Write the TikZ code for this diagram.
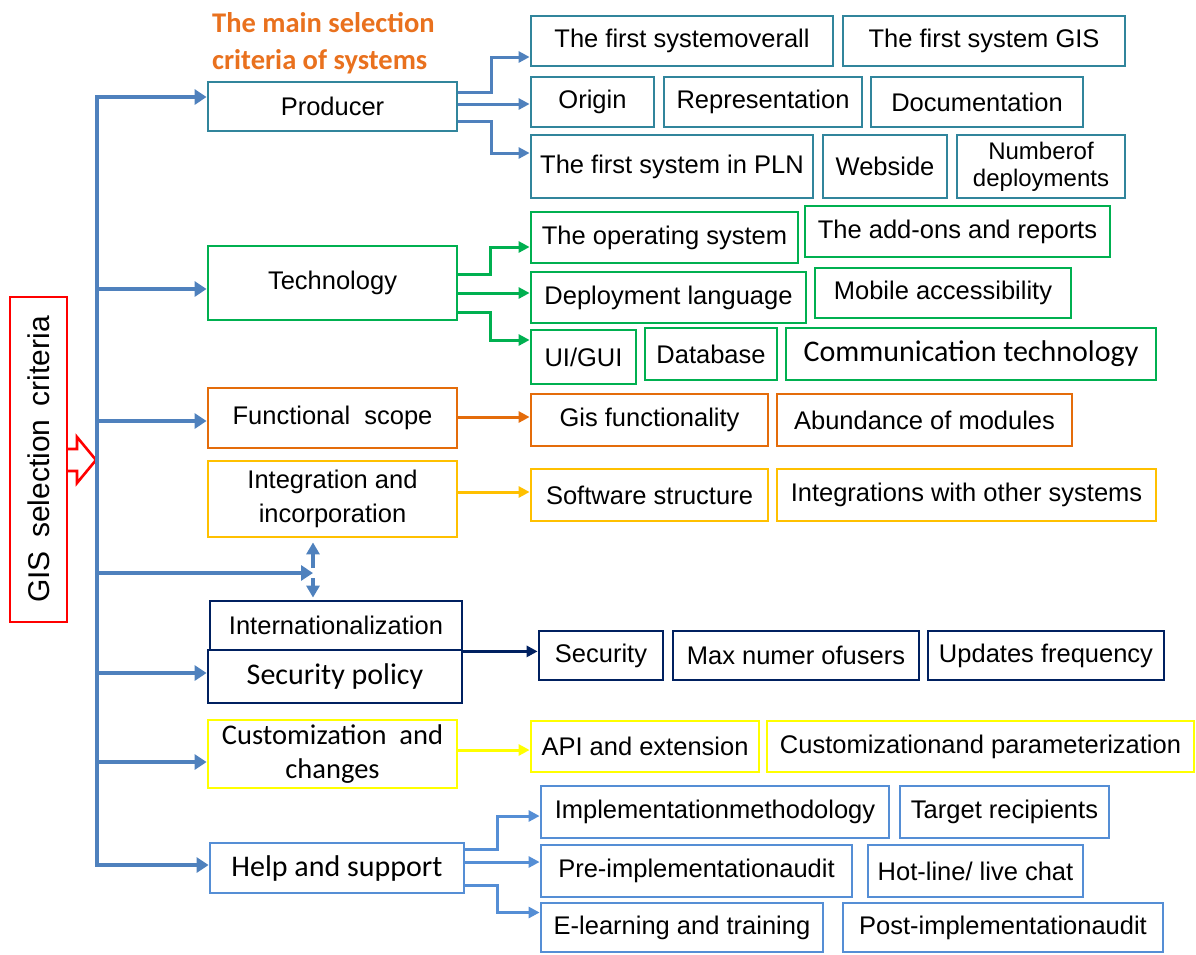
\documentclass[tikz,border=0pt]{standalone}
\usepackage{fontspec}
\usepackage{graphicx}
\setmainfont{Liberation Sans}
\newfontfamily\calib{Carlito}
\usetikzlibrary{arrows.meta,calc}
\definecolor{trunkblue}{RGB}{79,129,189}
\definecolor{cteal}{RGB}{49,133,156}
\definecolor{cgreen}{RGB}{0,176,80}
\definecolor{corange}{RGB}{228,108,10}
\definecolor{cgold}{RGB}{255,192,0}
\definecolor{cnavy}{RGB}{0,32,96}
\definecolor{cyellow}{RGB}{255,255,0}
\definecolor{chelp}{RGB}{85,142,213}
\definecolor{ctitle}{RGB}{233,113,30}
\newcommand\mybox[8][]{\node[bx,#1,draw=#7,minimum width={(#5-#3)*1pt},minimum height={(#6-#4)*1pt}] (#2) at ({(#3+#5)/2},{(#4+#6)/2}) {#8};}
\begin{document}
\begin{tikzpicture}[x=1pt,y=-1pt,
  bx/.style={draw,line width=2.8pt,inner sep=0pt,align=center,text=black,font=\fontsize{25.5}{29}\selectfont},
  calibtext/.style={font=\calib\fontsize{30}{33}\selectfont},
  trunkline/.style={draw=trunkblue,line width=4.5pt},
  tarrow/.style={trunkline,-{Triangle[length=12pt,width=15pt]}},
  varrow/.style={draw=trunkblue,line width=4pt,-{Triangle[length=12pt,width=13pt]}},
  carrow/.style={line width=3pt,-{Triangle[length=11pt,width=11pt]}}]
\useasboundingbox (0,0) rectangle (1196,954);

% title
\node[anchor=north west,inner sep=0pt,align=left,text=ctitle,font=\calib\bfseries\fontsize{28.5}{37}\selectfont] (title) at (212,12) {The main selection\\criteria of systems};

% left red box
\node[draw=red,line width=2.6pt,inner sep=0pt,minimum width=57pt,minimum height=325pt,font=\fontsize{30}{33}\selectfont] (gis) at (38.5,459.5) {\rotatebox{90}{GIS\, selection\, criteria}};
\draw[red,line width=2.6pt,line join=miter] (67,449) -- (77,449) -- (77,437) -- (96,460) -- (77,483) -- (77,471) -- (67,471);

% middle boxes
\mybox{prod}{208}{82}{457}{131}{cteal}{Producer}
\mybox{tech}{208}{246}{457}{320}{cgreen}{Technology}
\mybox{func}{208}{388}{457}{448}{corange}{Functional\ \ scope}
\mybox[font=\fontsize{25.5}{34}\selectfont]{integ}{208}{461}{457}{537}{cgold}{Integration and\\incorporation}
\mybox{intl}{210}{601}{462}{650}{cnavy}{Internationalization}
\mybox[calibtext]{secp}{208}{650}{462}{703}{cnavy}{Security policy}
\mybox[font=\calib\fontsize{28.5}{34}\selectfont]{cust}{208}{720}{457}{788}{cyellow}{Customization\ \ and\\changes}
\mybox[calibtext]{help}{210}{843}{464}{893}{chelp}{Help and support}

% producer children
\mybox{c11}{531}{16}{833}{66}{cteal}{The first systemoverall}
\mybox{c12}{843}{16}{1125}{66}{cteal}{The first system GIS}
\mybox{c21}{531}{77}{654}{127}{cteal}{Origin}
\mybox{c22}{664}{77}{862}{127}{cteal}{Representation}
\mybox{c23}{871}{77}{1083}{127}{cteal}{Documentation}
\mybox{c31}{531}{135}{813}{198}{cteal}{The first system in PLN}
\mybox{c32}{823}{135}{947}{198}{cteal}{Webside}
\mybox[font=\fontsize{24}{27}\selectfont]{c33}{957}{135}{1125}{198}{cteal}{Numberof\\deployments}

% technology children
\mybox{g11}{531}{212}{798}{263}{cgreen}{The operating system}
\mybox{g12}{805}{206}{1110}{257}{cgreen}{The add-ons and reports}
\mybox{g21}{531}{272}{806}{323}{cgreen}{Deployment language}
\mybox{g22}{815}{268}{1071}{318}{cgreen}{Mobile accessibility}
\mybox{g31}{531}{330}{636}{384}{cgreen}{UI/GUI}
\mybox{g32}{645}{328}{777}{380}{cgreen}{Database}
\mybox[calibtext]{g33}{786}{328}{1156}{380}{cgreen}{Communication technology}

% functional children
\mybox{o1}{531}{394}{768}{446}{corange}{Gis functionality}
\mybox{o2}{777}{394}{1072}{446}{corange}{Abundance of modules}

% integration children
\mybox{y1}{531}{469}{768}{521}{cgold}{Software structure}
\mybox{y2}{777}{469}{1156}{521}{cgold}{Integrations with other systems}

% security children
\mybox{n1}{539}{631}{663}{680}{cnavy}{Security}
\mybox{n2}{673}{631}{919}{680}{cnavy}{Max numer ofusers}
\mybox{n3}{928}{631}{1164}{680}{cnavy}{Updates frequency}

% customization children
\mybox{k1}{531}{721}{759}{772}{cyellow}{API and extension}
\mybox{k2}{767}{721}{1194}{772}{cyellow}{Customizationand parameterization}

% help children
\mybox{h11}{541}{786}{889}{838}{chelp}{Implementationmethodology}
\mybox{h12}{900}{786}{1109}{838}{chelp}{Target recipients}
\mybox{h21}{541}{845}{852}{897}{chelp}{Pre-implementationaudit}
\mybox{h22}{868}{845}{1083}{897}{chelp}{Hot-line/ live chat}
\mybox{h31}{541}{903}{823}{952}{chelp}{E-learning and training}
\mybox{h32}{843}{903}{1163}{952}{chelp}{Post-implementationaudit}

% trunk
\coordinate (t1) at (97,97);
\coordinate (t2) at (97,289);
\coordinate (t3) at (97,421);
\coordinate (t4) at (97,573);
\coordinate (t5) at (97,673);
\coordinate (t6) at (97,762);
\coordinate (t7) at (97,865);
\coordinate (j) at (313,573);
\draw[tarrow] (t7) -- (t1) -- (t1 -| prod.west);
\draw[tarrow] (t1) -- (t7) -- (t7 -| help.west);
\draw[tarrow] (t2) -- (t2 -| tech.west);
\draw[tarrow] (t3) -- (t3 -| func.west);
\draw[tarrow] (t4) -- (j);
\draw[tarrow] (t5) -- (t5 -| secp.west);
\draw[tarrow] (t6) -- (t6 -| cust.west);
\draw[varrow] ([yshift=5pt]j) -- ([yshift=-4pt]integ.south -| j);
\draw[varrow] ([yshift=-5pt]j) -- ([yshift=2pt]intl.north -| j);

% producer arrows
\draw[carrow,trunkblue] ([yshift=14.5pt]prod.east) -- ++(33,0) |- ([yshift=-16pt]c11.west);
\draw[carrow,trunkblue] ([yshift=2.5pt]prod.east) -- ([yshift=2.5pt]prod.east -| c21.west);
\draw[carrow,trunkblue] ([yshift=-14.5pt]prod.east) -- ++(33,0) |- ([yshift=13.5pt]c31.west);

% technology arrows
\draw[carrow,cgreen] ([yshift=9pt]tech.east) -- ++(32,0) |- ([yshift=-9.5pt]g11.west);
\draw[carrow,cgreen] ([yshift=-10pt]tech.east) -- ([yshift=-10pt]tech.east -| g21.west);
\draw[carrow,cgreen] ([yshift=-29pt]tech.east) -- ++(32,0) |- ([yshift=17pt]g31.west);

% single arrows
\draw[carrow,corange] ([yshift=1pt]func.east) -- ([yshift=1pt]func.east -| o1.west);
\draw[carrow,cgold] ([yshift=7pt]integ.east) -- ([yshift=7pt]integ.east -| y1.west);
\draw[carrow,cnavy] (intl.south east) -- (intl.south east -| n1.west);
\draw[carrow,cyellow] ([yshift=4pt]cust.east) -- ([yshift=4pt]cust.east -| k1.west);

% help arrows
\draw[carrow,chelp] ([yshift=19pt]help.east) -- ++(32,0) |- ([yshift=-4pt]h11.west);
\draw[carrow,chelp] ([yshift=6pt]help.east) -- ([yshift=6pt]help.east -| h21.west);
\draw[carrow,chelp] ([yshift=-17pt]help.east) -- ++(32,0) |- ([yshift=15pt]h31.west);
\end{tikzpicture}
\end{document}
